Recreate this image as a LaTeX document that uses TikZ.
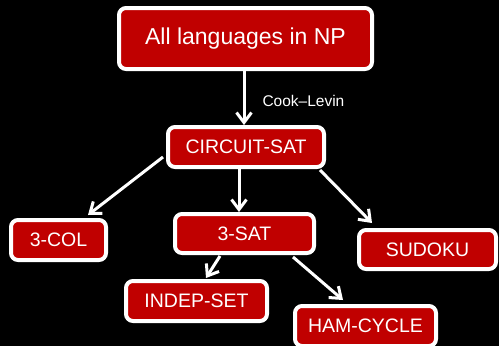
\documentclass[tikz,border=0pt]{standalone}
\usepackage{fontspec}
\setmainfont{Liberation Sans}
\usetikzlibrary{arrows.meta}
\definecolor{boxred}{HTML}{C00000}

\begin{document}
\begin{tikzpicture}[x=1pt, y=-1pt,
	redbox/.style={draw=white, line width=4pt, fill=boxred, rounded corners=7pt, text=white, minimum height=40pt, inner sep=0pt, font=\fontsize{19.5}{23}\selectfont},
	reduce/.style={draw=white, line width=3pt, -{Straight Barb[length=10pt,width=15pt]}},
	cooklabel/.style={text=white, font=\fontsize{15.5}{18}\selectfont, inner sep=0pt}]
		%%%%% START %%%%%
		
		\fill[black] (0, 0) rectangle (499, 346);
		\useasboundingbox (0, 0) rectangle (499, 346);
		
		\node[redbox, minimum width=253pt, minimum height=61pt, font=\fontsize{23}{27}\selectfont] (np) at (245.5, 38.5) {All languages in NP};
		\node[redbox, minimum width=156pt] (csat) at (246, 147) {CIRCUIT-SAT};
		
		\node[redbox, minimum width=95pt] (col) at (58.5, 240) {3-COL};
		\node[redbox, minimum width=139pt, minimum height=39pt] (sat) at (244.5, 233.5) {3-SAT};
		\node[redbox, minimum width=137pt, minimum height=39pt] (sudoku) at (427.5, 249.5) {SUDOKU};
		
		\node[redbox, minimum width=141pt] (indep) at (196.5, 301) {INDEP-SET};
		\node[redbox, minimum width=141pt] (ham) at (365.5, 326) {HAM-CYCLE};
		
		\draw[reduce] ([xshift=-1.5pt]np.south) -- ([xshift=-2pt]csat.north)
			node[cooklabel, anchor=west, pos=0.55, xshift=17pt] (cl) {Cook--Levin};
		
		\draw[reduce] ([xshift=-3pt, yshift=-10pt]csat.west) -- ([xshift=29.5pt, yshift=3pt]col.north);
		\draw[reduce] ([xshift=-7pt]csat.south) -- ([xshift=-5.5pt]sat.north);
		\draw[reduce] ([xshift=-6pt, yshift=-1pt]csat.south east) -- ([xshift=15pt, yshift=5pt]sudoku.north west);
		
		\draw[reduce] ([xshift=-24.5pt, yshift=-1pt]sat.south) -- ([xshift=9.5pt, yshift=1pt]indep.north);
		\draw[reduce] ([xshift=-23pt, yshift=-2pt]sat.south east) -- ([xshift=-22.5pt, yshift=4pt]ham.north);
		
		%%%%% END %%%%%
\end{tikzpicture}
\end{document}
